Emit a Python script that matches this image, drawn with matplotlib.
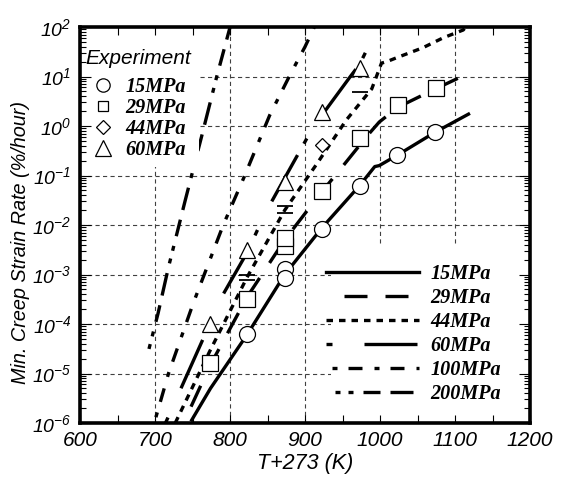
import numpy as np
import matplotlib.pyplot as plt
from matplotlib.lines import Line2D
from matplotlib.patches import Rectangle
from matplotlib.ticker import LogLocator, MultipleLocator, NullFormatter

plt.rcParams['font.family'] = ['Liberation Sans', 'DejaVu Sans']
plt.rcParams['mathtext.fontset'] = 'custom'
plt.rcParams['mathtext.it'] = 'Liberation Sans:italic'
plt.rcParams['mathtext.rm'] = 'Liberation Sans:italic'
plt.rcParams['mathtext.default'] = 'it'
plt.rcParams['lines.scale_dashes'] = False

# experiment points: T+273 (K) and min. creep strain rate (%/hour)
t_15 = [823, 873, 873, 923, 973, 1023, 1073]
r_15 = [6.2e-5, 1.27e-3, 8.6e-4, 8.3e-3, 6.2e-2, 2.6e-1, 7.5e-1]
t_29 = [773, 823, 873, 873, 923, 973, 1024, 1074]
r_29 = [1.6e-5, 3.2e-4, 3.7e-3, 5.4e-3, 4.9e-2, 5.6e-1, 2.6, 5.9]
t_44 = [923]
r_44 = [0.41]
t_bar = [823, 823, 873, 873, 973]
r_bar = [1.0e-3, 7.9e-4, 2.4e-2, 1.75e-2, 4.9]
t_60 = [773, 823, 873, 923, 973]
r_60 = [1.0e-4, 3.1e-3, 7.5e-2, 1.9, 15.0]

# model curves (log10 of rate)
c15_t = [749, 774, 823, 873, 923, 973, 993, 999, 1023, 1073, 1118]
c15_lg = [-5.94, -5.30, -4.21, -3.0, -2.05, -1.2, -0.82, -0.80, -0.59, -0.13, 0.24]
c29_t = [738, 773, 823, 873, 907, 923, 951, 984, 999, 1024, 1051, 1074, 1109]
c29_lg = [-6.0, -4.85, -3.45, -2.3, -1.63, -1.32, -0.80, -0.18, 0.08, 0.38, 0.58, 0.75, 1.0]
c44_t = [727, 773, 823, 873, 916, 955, 989, 1002, 1009, 1024, 1057, 1084, 1111, 1120]
c44_lg = [-6.0, -4.55, -3.05, -1.70, -0.76, 0.12, 0.75, 1.27, 1.30, 1.39, 1.58, 1.78, 1.94, 2.1]
c60_t = [714, 773, 789, 823, 847, 873, 911, 960, 973, 999]
c60_lg = [-6.0, -4.0, -3.45, -2.55, -1.76, -1.05, -0.02, 0.99, 1.25, 2.05]
c100_t = [699, 718, 751, 791, 818, 853, 882, 900, 914]
c100_lg = [-6.0, -5.0, -3.58, -2.0, -1.06, 0.22, 1.09, 1.6, 2.05]
c200_t = [689, 704, 718, 740, 762, 782, 801]
c200_lg = [-4.68, -3.79, -2.85, -1.52, -0.22, 0.98, 2.05]

curve_labels = ['15MPa', '29MPa', '44MPa', '60MPa', '100MPa', '200MPa']


def pt(offset, seq):
    # dash patterns measured in pixels -> points (dpi 100)
    return (offset * 0.72, [v * 0.72 for v in seq])


styles = [
    '-',
    pt(23, [23, 18]),
    pt(0, [6.5, 6]),
    pt(66, [53, 13, 6, 32]),
    pt(36, [5, 11, 14, 12]),
    pt(79, [5, 8, 5, 10, 17, 10, 23, 10]),
]

fig = plt.figure(figsize=(5.61, 4.79), dpi=100)
ax = fig.add_axes([80 / 561, 1 - 423 / 479, 450 / 561, 396 / 479])

ax.set_yscale('log')
ax.set_xlim(600, 1200)
ax.set_ylim(1e-6, 1e2)

exps = list(range(-6, 3))
ax.set_yticks([10.0 ** e for e in exps])
ax.set_yticklabels(['$10^{%d}$' % e for e in exps])
ax.yaxis.set_minor_locator(LogLocator(base=10, subs=range(2, 10), numticks=20))
ax.yaxis.set_minor_formatter(NullFormatter())
ax.set_xticks(range(600, 1201, 100))
ax.xaxis.set_minor_locator(MultipleLocator(50))

# dashed grid drawn by hand so the legend boxes can hide it
grid_kw = dict(color='0.25', lw=0.8, linestyle=(0, (3, 2.4)), zorder=1)
for x in range(700, 1101, 100):
    ax.axvline(x, **grid_kw)
for e in exps[1:-1]:
    ax.axhline(10.0 ** e, **grid_kw)

lw = 2.4
curves = [(c15_t, c15_lg), (c29_t, c29_lg), (c44_t, c44_lg),
          (c60_t, c60_lg), (c100_t, c100_lg), (c200_t, c200_lg)]
line_handles = []
for (t, lg), ls, lab in zip(curves, styles, curve_labels):
    h, = ax.plot(t, 10 ** np.array(lg), color='black', lw=lw, linestyle=ls,
                 dash_capstyle='butt', label=lab, zorder=3)
    line_handles.append(h)

mk = dict(ls='none', mfc='white', mec='black', mew=0.9, zorder=5)
ax.plot(t_15, r_15, marker='o', ms=11.5, **mk)
ax.plot(t_29, r_29, marker='s', ms=11.5, **mk)
ax.plot(t_44, r_44, marker='D', ms=7.6, **mk)
ax.plot(t_60, r_60, marker='^', ms=12, **mk)
ax.plot(t_bar, r_bar, marker='_', ms=11, ls='none', mec='black', mew=1.3, zorder=5)

ax.tick_params(which='both', direction='in', top=True, right=True, width=0.8)
ax.tick_params(axis='x', which='major', length=6, labelsize=15, pad=6)
ax.tick_params(axis='x', which='minor', length=6)
ax.tick_params(axis='y', which='major', length=8, labelsize=14, pad=6)
ax.tick_params(axis='y', which='minor', length=4.5)
for lbl in ax.get_xticklabels() + ax.get_yticklabels():
    lbl.set_fontstyle('italic')

for sp in ax.spines.values():
    sp.set_linewidth(2.6)
    sp.set_zorder(8)
ax.xaxis.set_zorder(8)
ax.yaxis.set_zorder(8)

ax.set_xlabel('T+273 (K)', fontsize=15.5, fontstyle='italic', labelpad=2)
ax.set_ylabel('Min. Creep Strain Rate (%/hour)', fontsize=14.3, fontstyle='italic')
ax.yaxis.set_label_coords(-0.112, 0.455)

lab_font = dict(family='Liberation Serif', weight='bold', style='italic', size=14.5)

# white boxes behind both legends
ax.add_patch(Rectangle((0, 0.6465), 0.2644, 0.3535, transform=ax.transAxes,
                       fc='white', ec='none', zorder=5.5))
ax.add_patch(Rectangle((0.5578, 0), 0.4422, 0.447, transform=ax.transAxes,
                       fc='white', ec='none', zorder=5.5))

ax.text(5 / 450, (423 - 58) / 396, 'Experiment', transform=ax.transAxes,
        ha='left', va='center', fontsize=15, fontstyle='italic', zorder=7)

exp_handles = [
    Line2D([], [], marker='o', ms=9.6, ls='none', mfc='white', mec='black', mew=0.9),
    Line2D([], [], marker='s', ms=7.5, ls='none', mfc='white', mec='black', mew=0.9),
    Line2D([], [], marker='D', ms=6.8, ls='none', mfc='white', mec='black', mew=0.9),
    Line2D([], [], marker='^', ms=12, ls='none', mfc='white', mec='black', mew=0.9),
]
leg1 = ax.legend(exp_handles, ['15MPa', '29MPa', '44MPa', '60MPa'],
                 loc='center left', bbox_to_anchor=(5 / 450, (423 - 118.5) / 396),
                 borderaxespad=0, borderpad=0, prop=lab_font, frameon=False,
                 handlelength=1.8, handletextpad=0.2, labelspacing=0.05)
leg1.set_zorder(7)
ax.add_artist(leg1)

leg2 = ax.legend(line_handles, curve_labels, loc='center',
                 bbox_to_anchor=(0.741, 0.2247), borderaxespad=0, borderpad=0,
                 prop=lab_font, frameon=False, handlelength=4.65,
                 handletextpad=0.57, labelspacing=0.2)
leg2.set_zorder(7)

fig.savefig('out.png', dpi=100)
